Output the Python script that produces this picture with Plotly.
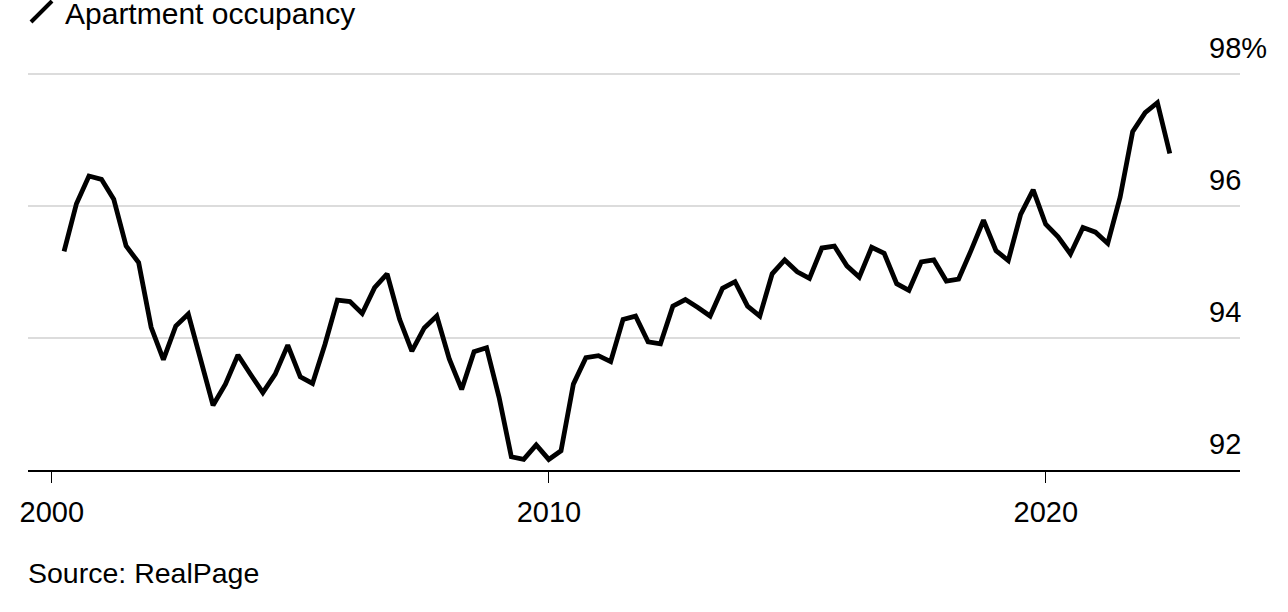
import pandas as pd
import plotly.graph_objects as go

# quarterly apartment occupancy (%)
quarters = pd.date_range("2000-03-31", periods=90, freq="QE")
occupancy = [
    95.31, 96.03, 96.45, 96.40, 96.10, 95.39, 95.14, 94.16, 93.67, 94.18,
    94.36, 93.65, 92.98, 93.30, 93.74, 93.45, 93.17, 93.45, 93.89, 93.41,
    93.31, 93.90, 94.57, 94.55, 94.37, 94.76, 94.97, 94.28, 93.80, 94.15,
    94.33, 93.68, 93.22, 93.79, 93.85, 93.10, 92.20, 92.16, 92.38, 92.16,
    92.29, 93.30, 93.70, 93.73, 93.64, 94.28, 94.33, 93.94, 93.91, 94.48,
    94.58, 94.46, 94.33, 94.75, 94.85, 94.48, 94.33, 94.97, 95.18, 95.00,
    94.90, 95.36, 95.39, 95.09, 94.92, 95.37, 95.28, 94.82, 94.72, 95.15,
    95.18, 94.86, 94.89, 95.32, 95.78, 95.32, 95.17, 95.87, 96.24, 95.72,
    95.53, 95.27, 95.67, 95.60, 95.43, 96.13, 97.12, 97.41, 97.56, 96.79,
]
y_ticks = [92, 94, 96, 98]
y_tick_text = ["92", "94", "96", "98%"]
x_ticks = ["2000-01-01", "2010-01-01", "2020-01-01"]
x_tick_text = ["2000", "2010", "2020"]

FONT = "Liberation Sans, Arial, sans-serif"
GRID = "#dcdcdc"

W, H = 1288, 612
L, R, T, B = 28, 48, 67, 142
PW, PH = W - L - R, H - T - B


def px_x(x):
    return (x - L) / PW


def px_y(y):
    return 1 - (y - T) / PH


fig = go.Figure()
fig.add_scatter(
    x=quarters,
    y=occupancy,
    mode="lines",
    line={"color": "#000000", "width": 4.8},
    cliponaxis=False,
    showlegend=False,
    hoverinfo="skip",
)

# right-hand value labels sit above their gridlines
for val, txt in zip(y_ticks, y_tick_text):
    fig.add_annotation(
        x=px_x(1207), xref="paper", xanchor="left",
        y=val, yref="y", yanchor="bottom", yshift=8,
        text=txt, showarrow=False,
        font={"size": 29, "color": "#000000", "family": FONT},
    )

# legend key + title
fig.add_shape(
    type="line", xref="paper", yref="paper",
    x0=px_x(31), x1=px_x(52), y0=px_y(22), y1=px_y(1),
    line={"color": "#000000", "width": 4},
)
fig.add_annotation(
    x=px_x(64), xref="paper", xanchor="left",
    y=px_y(14), yref="paper", yanchor="middle",
    text="Apartment occupancy", showarrow=False, borderpad=0,
    font={"size": 30, "color": "#000000", "family": FONT},
)
fig.add_annotation(
    x=px_x(26), xref="paper", xanchor="left",
    y=px_y(573), yref="paper", yanchor="middle",
    text="Source: RealPage", showarrow=False,
    font={"size": 28.5, "color": "#000000", "family": FONT},
)

fig.update_layout(
    width=W,
    height=H,
    margin={"l": L, "r": R, "t": T, "b": B},
    paper_bgcolor="#ffffff",
    plot_bgcolor="#ffffff",
    font={"family": FONT, "size": 29, "color": "#000000"},
    xaxis={
        "type": "date",
        "range": ["1999-07-10", "2023-11-28"],
        "tickvals": x_ticks,
        "ticktext": x_tick_text,
        "ticks": "outside",
        "ticklen": 11,
        "tickwidth": 1.3,
        "tickcolor": "#000000",
        "ticklabelstandoff": 4,
        "showline": True,
        "linecolor": "#000000",
        "linewidth": 1.5,
        "showgrid": False,
        "zeroline": False,
    },
    yaxis={
        "range": [92, 98.1],
        "tickvals": y_ticks,
        "showticklabels": False,
        "showgrid": True,
        "gridcolor": GRID,
        "gridwidth": 2,
        "zeroline": False,
        "showline": False,
    },
)

# drop the default page margin so the figure sits at the window's corner
fig.write_html(
    "out.html",
    config={"displayModeBar": False},
    post_script="document.body.style.margin = '0';",
)
